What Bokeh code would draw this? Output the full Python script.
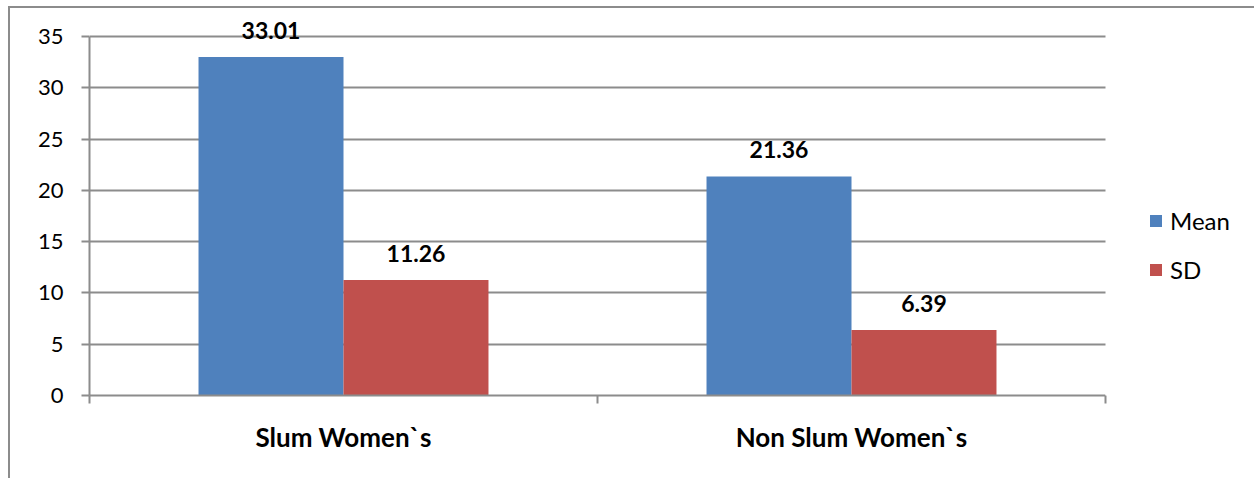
from bokeh.plotting import figure
from bokeh.models import (Range1d, FixedTicker, ColumnDataSource, Legend, LegendItem,
                          LinearAxis, Grid, BoxAnnotation)
from bokeh.core.properties import value
from bokeh.embed import file_html
from bokeh.resources import INLINE

categories = ["Slum Women`s", "Non Slum Women`s"]
series_names = ["Mean", "SD"]
mean_values = [33.01, 21.36]
sd_values = [11.26, 6.39]
y_ticks = [0, 5, 10, 15, 20, 25, 30, 35]

BLUE = "#4F81BD"
RED = "#C0504D"
GRID = "#8C8C8C"
FONT = "Lato"

n = len(categories)
x_end = n * 1167 / 1016  # frame extends over the legend area

p = figure(width=1246, height=472, output_backend="svg", toolbar_location=None,
           x_range=Range1d(0, x_end), y_range=Range1d(0, 37.44),
           min_border_left=79, min_border_right=0, min_border_top=3, min_border_bottom=85,
           x_axis_type=None, y_axis_type=None)
p.outline_line_color = None
p.background_fill_color = "white"
p.border_fill_color = "white"
p.styles = {"border-left": "2px solid #8C8C8C", "border-top": "2px solid #8C8C8C",
            "margin-left": "8px", "margin-top": "6px"}

grid = Grid(dimension=1, ticker=FixedTicker(ticks=y_ticks), grid_line_color=GRID,
            grid_line_width=2)
p.add_layout(grid, "center")

# blank out the grid beyond the plot area (legend zone)
cover = BoxAnnotation(left=n, fill_color="white", fill_alpha=1, line_color=None)
p.add_layout(cover)

bw = 0.2854
centers = [i + 0.5 for i in range(n)]
mean_src = ColumnDataSource(dict(x=[c - bw / 2 for c in centers], top=mean_values,
                                 lbl=[f"{v:.2f}" for v in mean_values]))
sd_src = ColumnDataSource(dict(x=[c + bw / 2 for c in centers], top=sd_values,
                               lbl=[f"{v:.2f}" for v in sd_values]))

r_mean = p.vbar(x="x", top="top", bottom=0, width=bw, source=mean_src,
                fill_color=BLUE, line_color=None)
r_sd = p.vbar(x="x", top="top", bottom=0, width=bw, source=sd_src,
              fill_color=RED, line_color=None)

for src in (mean_src, sd_src):
    p.text(x="x", y="top", text="lbl", source=src, text_align="center",
           text_baseline="bottom", y_offset=-18, text_font=value(FONT),
           text_font_style="bold", text_font_size="23px", text_color="black")

# y axis
yax = LinearAxis(ticker=FixedTicker(ticks=y_ticks), bounds=(0, 35))
yax.axis_line_color = GRID
yax.axis_line_width = 2
yax.major_tick_line_color = GRID
yax.major_tick_line_width = 2
yax.major_tick_out = 8
yax.major_tick_in = 0
yax.minor_tick_line_color = None
yax.major_label_standoff = 18
yax.major_label_text_font = FONT
yax.major_label_text_font_size = "22px"
yax.major_label_text_color = "black"
p.add_layout(yax, "left")

# x axis
xax = LinearAxis(ticker=FixedTicker(ticks=centers, minor_ticks=list(range(n + 1))),
                 bounds=(0, n))
xax.major_label_overrides = {c: name for c, name in zip(centers, categories)}
xax.axis_line_color = GRID
xax.axis_line_width = 2
xax.major_tick_line_color = None
xax.major_tick_out = 0
xax.major_tick_in = 0
xax.minor_tick_line_color = GRID
xax.minor_tick_line_width = 2
xax.minor_tick_out = 8
xax.minor_tick_in = 0
xax.major_label_standoff = 17
xax.major_label_text_font = FONT
xax.major_label_text_font_style = "bold"
xax.major_label_text_font_size = "26px"
xax.major_label_text_color = "black"
p.add_layout(xax, "below")

legend = Legend(items=[LegendItem(label=series_names[0], renderers=[r_mean]),
                       LegendItem(label=series_names[1], renderers=[r_sd])],
                location=(1059, 111))
legend.border_line_color = None
legend.background_fill_alpha = 0
legend.glyph_width = 15
legend.glyph_height = 15
legend.label_standoff = 7
legend.spacing = 20
legend.padding = 0
legend.margin = 0
legend.label_text_font = FONT
legend.label_text_font_size = "24px"
legend.label_text_color = "black"
p.add_layout(legend, "center")

open("out.html", "w").write(file_html(p, INLINE))
